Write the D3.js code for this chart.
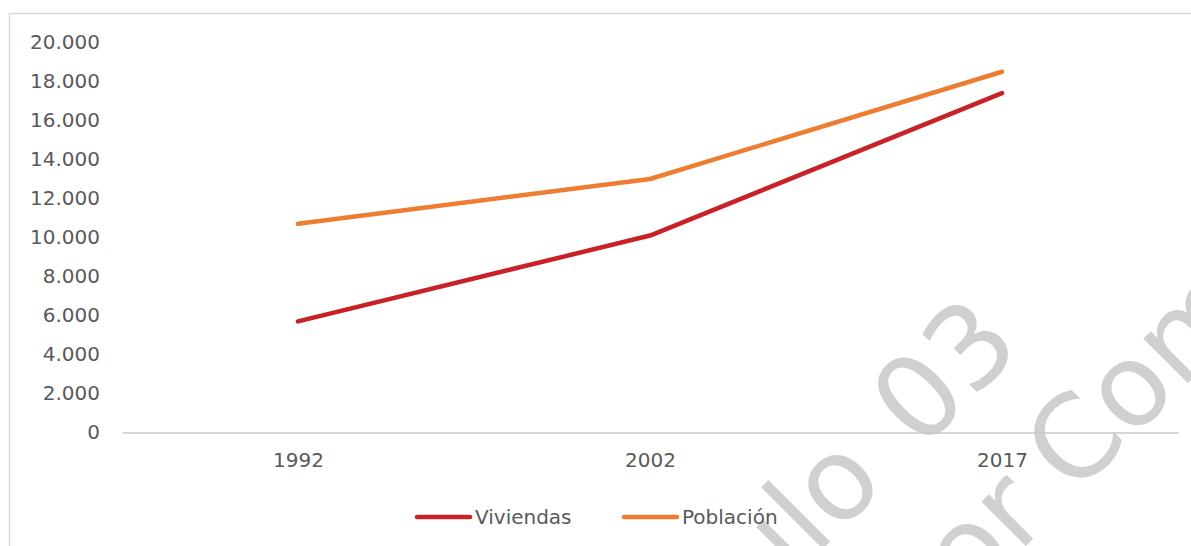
<!DOCTYPE html>
<html>
<head>
<meta charset="utf-8">
<script src="https://cdn.jsdelivr.net/npm/d3@7"></script>
<style>
	body { margin: 0; background: #fff; }
	text { font-family: "DejaVu Sans", sans-serif; fill: #595959; }
	.wm { font-family: Lato, sans-serif; }
</style>
</head>
<body>
<svg id="graph"></svg>
<script>
var years = ["1992", "2002", "2017"];
var viviendas = [5700, 10100, 17400];
var poblacion = [10700, 13000, 18500];
var seriesNames = ["Viviendas", "Población"];
var seriesColors = ["#c82127", "#ed7d31"];
var yTicks = [0, 2000, 4000, 6000, 8000, 10000, 12000, 14000, 16000, 18000, 20000];

document.addEventListener("DOMContentLoaded", function(event) {
	var margin = {top: 42.5, left: 122, right: 13, bottom: 113.5},
		width = 1191 - margin.left - margin.right,
		height = 546 - margin.top - margin.bottom,
		graph = d3.select("#graph").attr("width", 1191).attr("height", 546);

	// chart border
	graph.append("rect")
		.attr("x", 9.5).attr("y", 13.5)
		.attr("width", 1200).attr("height", 600)
		.attr("fill", "none").attr("stroke", "#d9d9d9").attr("stroke-width", 1.5);

	// watermark (behind the chart)
	var wm = graph.append("g").attr("class", "wm");
	wm.append("text")
		.attr("transform", "translate(1024,348) rotate(-45)")
		.attr("text-anchor", "end")
		.attr("font-size", 115)
		.attr("word-spacing", 10)
		.style("fill", "#d0d0d0")
		.text("Capítulo 03");
	wm.append("text")
		.attr("transform", "translate(1052,520) rotate(-45)")
		.attr("text-anchor", "end")
		.attr("font-size", 115)
		.style("fill", "#d0d0d0")
		.text("Por");
	wm.append("text")
		.attr("transform", "translate(1074,497) rotate(-45)")
		.attr("font-size", 115)
		.style("fill", "#d0d0d0")
		.text("Comunidad");

	var g = graph.append("g").attr("transform", "translate(" + margin.left + "," + margin.top + ")");

	var x = d3.scalePoint().domain(years).range([0, width]).padding(0.5),
		y = d3.scaleLinear().domain([0, 20000]).range([height, 0]);

	var fmt = function(v) { return d3.format(",")(v).replace(/,/g, "."); };

	// y labels
	g.append("g")
		.attr("class", "axis yaxis")
		.call(d3.axisLeft(y).tickValues(yTicks).tickFormat(fmt).tickSize(0).tickPadding(22))
		.call(function(s) { s.select(".domain").remove(); })
		.selectAll("text").attr("font-size", 20).attr("fill", "#595959");

	// x axis
	g.append("g")
		.attr("class", "axis xaxis")
		.attr("transform", "translate(0," + height + ")")
		.call(d3.axisBottom(x).tickSize(0).tickPadding(20))
		.call(function(s) {
			s.select(".domain").attr("stroke", "#c8c8c8").attr("stroke-width", 1.5);
		})
		.selectAll("text").attr("font-size", 20).attr("fill", "#595959");

	// lines
	var line = d3.line()
		.x(function(d, i) { return x(years[i]); })
		.y(function(d) { return y(d); });

	[viviendas, poblacion].forEach(function(s, i) {
		g.append("path")
			.datum(s)
			.attr("fill", "none")
			.attr("stroke", seriesColors[i])
			.attr("stroke-width", 4.5)
			.attr("stroke-linecap", "round")
			.attr("stroke-linejoin", "round")
			.attr("d", line);
	});

	// legend
	var legendX = [416, 623];
	var legend = graph.append("g").attr("transform", "translate(0,517)");
	seriesNames.forEach(function(n, i) {
		legend.append("line")
			.attr("x1", legendX[i] + 1).attr("x2", legendX[i] + 54)
			.attr("stroke", seriesColors[i]).attr("stroke-width", 4.5)
			.attr("stroke-linecap", "round");
		legend.append("text")
			.attr("x", legendX[i] + 59).attr("dy", "0.35em")
			.attr("font-size", 20)
			.text(n);
	});
});
</script>
</body>
</html>
